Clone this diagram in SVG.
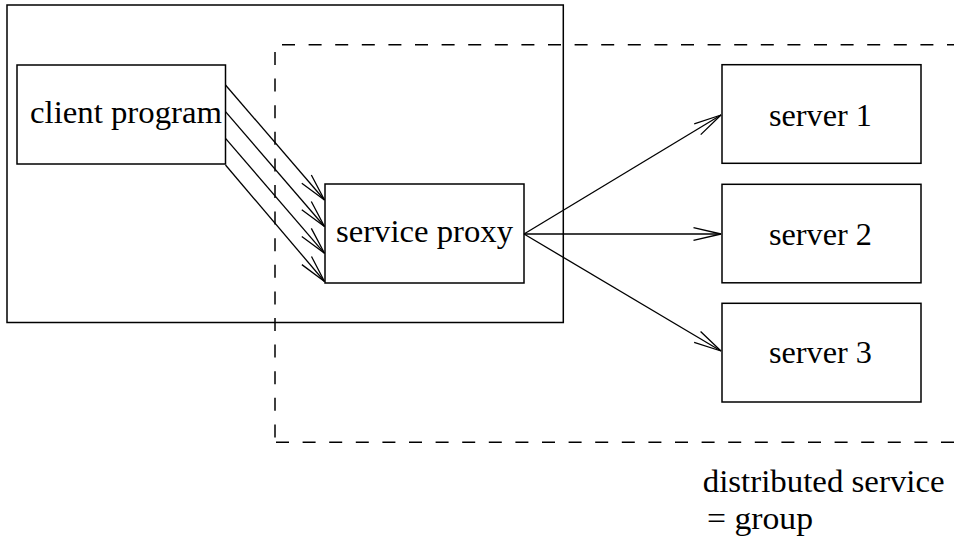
<svg xmlns="http://www.w3.org/2000/svg" width="954" height="542" viewBox="0 0 954 542">
<style>
.box{fill:none;stroke:#000;stroke-width:1.5}
.dash{fill:none;stroke:#000;stroke-width:1.5;stroke-dasharray:13 13.6}
.t{font-family:"Liberation Serif",serif;font-size:32px;fill:#000}
.c{fill:none;stroke:#000;stroke-width:1.3}
</style>
<defs>
<marker id="ah" markerUnits="userSpaceOnUse" markerWidth="32" markerHeight="16" refX="28" refY="7.5" orient="auto" overflow="visible">
<path d="M0.5,1.2 L28,7.5 L0.5,13.8" fill="none" stroke="#000" stroke-width="1.3"/>
</marker>
</defs>
<g id="host">
<rect class="box" x="7" y="5" width="556.3" height="317.5"/>
</g>
<g id="group-boundary">
<line class="dash" x1="282" y1="44.7" x2="954" y2="44.7"/>
<line class="dash" x1="275" y1="52" x2="275" y2="442.3"/>
<line class="dash" x1="276" y1="442.3" x2="954" y2="442.3"/>
</g>
<g id="client">
<rect class="box" x="17" y="65" width="208.5" height="99"/>
<text class="t" x="30" y="123" textLength="192" lengthAdjust="spacingAndGlyphs">client program</text>
</g>
<g id="proxy">
<rect class="box" x="325" y="184" width="199" height="99"/>
<text class="t" x="336" y="242" textLength="177" lengthAdjust="spacingAndGlyphs">service proxy</text>
</g>
<g id="server1">
<rect class="box" x="722" y="64.7" width="199" height="98.6"/>
<text class="t" x="769" y="126" textLength="103" lengthAdjust="spacingAndGlyphs">server 1</text>
</g>
<g id="server2">
<rect class="box" x="722" y="184.3" width="199" height="98.5"/>
<text class="t" x="769" y="245" textLength="103" lengthAdjust="spacingAndGlyphs">server 2</text>
</g>
<g id="server3">
<rect class="box" x="722" y="303.3" width="199" height="98.7"/>
<text class="t" x="769" y="363" textLength="103" lengthAdjust="spacingAndGlyphs">server 3</text>
</g>
<g id="label">
<text class="t" x="702.7" y="492" textLength="242" lengthAdjust="spacingAndGlyphs">distributed service</text>
<text class="t" x="707" y="529" textLength="106" lengthAdjust="spacingAndGlyphs">= group</text>
</g>
<g id="connectors">
<line class="c" x1="225.5" y1="85" x2="324.5" y2="200" marker-end="url(#ah)"/>
<line class="c" x1="225.5" y1="111.7" x2="324.5" y2="226.5" marker-end="url(#ah)"/>
<line class="c" x1="225.5" y1="138.3" x2="324.5" y2="253.3" marker-end="url(#ah)"/>
<line class="c" x1="225.5" y1="165" x2="324.5" y2="281.5" marker-end="url(#ah)"/>
<line class="c" x1="524" y1="234" x2="721" y2="115" marker-end="url(#ah)"/>
<line class="c" x1="524" y1="234" x2="721" y2="234" marker-end="url(#ah)"/>
<line class="c" x1="524" y1="234" x2="721" y2="351" marker-end="url(#ah)"/>
</g>
</svg>
